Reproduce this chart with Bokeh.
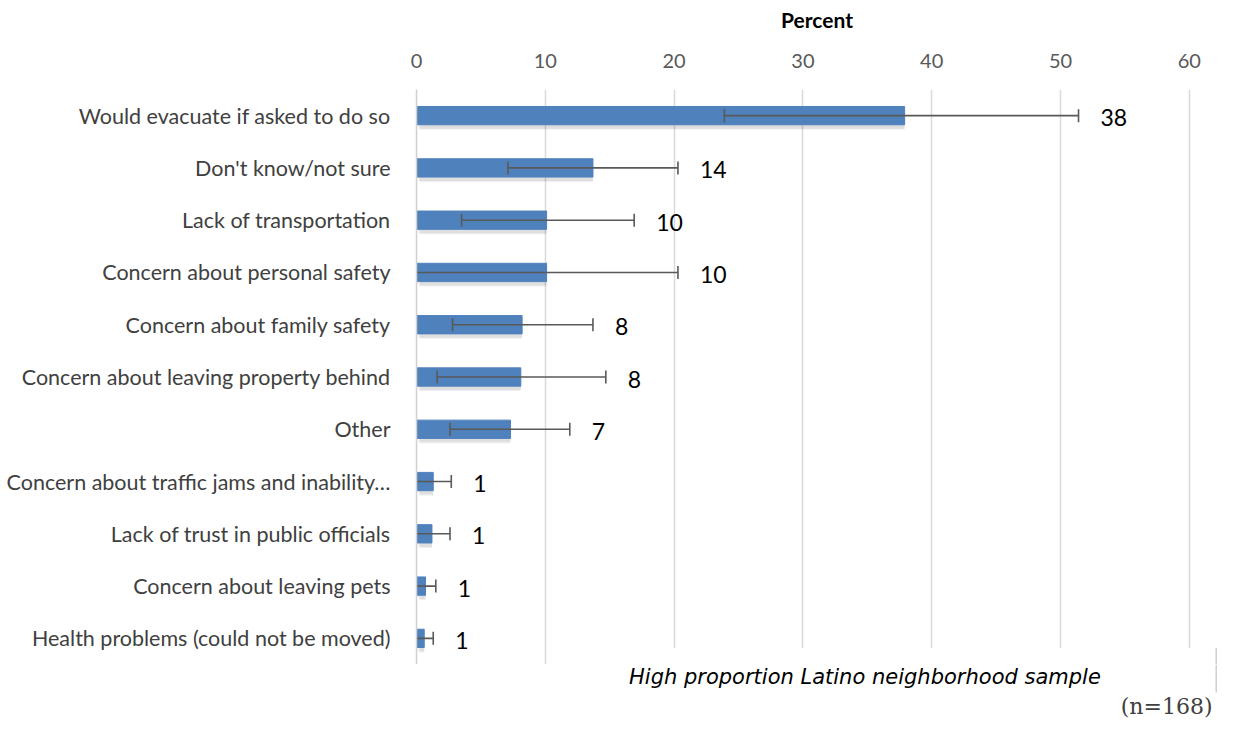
import math
from bokeh.plotting import figure
from bokeh.layouts import column
from bokeh.models import ColumnDataSource, FactorRange, Range1d, Label, BoxAnnotation, FixedTicker
from bokeh.transform import dodge
from bokeh.core.properties import value
from bokeh.embed import file_html
from bokeh.resources import INLINE

categories = [
    "Would evacuate if asked to do so",
    "Don't know/not sure",
    "Lack of transportation",
    "Concern about personal safety",
    "Concern about family safety",
    "Concern about leaving property behind",
    "Other",
    "Concern about traffic jams and inability\u2026",
    "Lack of trust in public officials",
    "Concern about leaving pets",
    "Health problems (could not be moved)",
]
percent = [37.9, 13.7, 10.1, 10.1, 8.2, 8.1, 7.3, 1.3, 1.2, 0.7, 0.6]
err_low = [23.9, 7.1, 3.5, 0.0, 2.8, 1.6, 2.6, 0.0, 0.0, 0.0, 0.0]
err_high = [51.4, 20.3, 16.9, 20.3, 13.7, 14.7, 11.9, 2.7, 2.6, 1.5, 1.3]
labels = ["38", "14", "10", "10", "8", "8", "7", "1", "1", "1", "1"]
x_ticks = [0, 10, 20, 30, 40, 50, 60]

FONT = "Lato"
BLUE = "#4f81bd"
W = 1217
LEFT = 416

src = ColumnDataSource(dict(cat=categories, pct=percent, lo=err_low, hi=err_high, lab=labels))
low_caps = ColumnDataSource(dict(
    cat=[c for c, l in zip(categories, err_low) if l > 0],
    lo=[l for l in err_low if l > 0],
))

xr = Range1d(0, 62.19)
p = figure(width=W, height=664,
           y_range=FactorRange(factors=categories[::-1]),
           x_range=xr,
           x_axis_location="above",
           output_backend="svg", toolbar_location=None,
           min_border_left=LEFT, min_border_right=0,
           min_border_top=89, min_border_bottom=0)
p.outline_line_color = None
p.background_fill_color = "white"

# axes
xa = p.xaxis[0]
xa.ticker = FixedTicker(ticks=x_ticks)
xa.axis_label = "Percent"
xa.axis_label_text_font = FONT
xa.axis_label_text_font_style = "bold"
xa.axis_label_text_font_size = "21px"
xa.axis_label_text_color = "black"
xa.axis_label_standoff = 19
xa.major_label_text_font = FONT
xa.major_label_text_font_size = "20px"
xa.major_label_text_color = "#595959"
xa.major_label_standoff = 16
xa.major_tick_line_color = None
xa.minor_tick_line_color = None
xa.axis_line_color = None

ya = p.yaxis[0]
ya.major_label_text_font = FONT
ya.major_label_text_font_size = "21.5px"
ya.major_label_text_color = "#404040"
ya.major_label_standoff = 20
ya.major_tick_line_color = None
ya.minor_tick_line_color = None
ya.axis_line_color = "#d0d0d0"
ya.axis_line_width = 1.5

p.ygrid.grid_line_color = None
p.xgrid.ticker = FixedTicker(ticks=x_ticks)
p.xgrid.grid_line_color = "#d9d9d9"
p.xgrid.grid_line_width = 1.5

# soft shadow under the bars
p.hbar(y=dodge("cat", -0.07, range=p.y_range), left=0.15, right="pct", height=0.36,
       source=src, fill_color="black", fill_alpha=0.07, line_color=None)
p.hbar(y=dodge("cat", -0.10, range=p.y_range), left=0.25, right="pct", height=0.34,
       source=src, fill_color="black", fill_alpha=0.06, line_color=None)
# bars
p.hbar(y="cat", left=0, right="pct", height=0.35, source=src,
       fill_color=BLUE, line_color=BLUE, line_width=1)

# error bars
p.segment(x0="lo", x1="hi", y0="cat", y1="cat", source=src,
          line_color="#595959", line_width=1.6)
p.scatter(x="hi", y="cat", marker="dash", angle=math.pi / 2, size=13, source=src,
          line_color="#595959", line_width=1.6)
p.scatter(x="lo", y="cat", marker="dash", angle=math.pi / 2, size=13, source=low_caps,
          line_color="#595959", line_width=1.6)

# value labels
p.text(x="hi", y="cat", text="lab", source=src, x_offset=22, y_offset=2,
       text_align="left", text_baseline="middle",
       text_font=value(FONT), text_font_size="23px", text_color="black")

# caption box (upper part, inside the plot frame)
p.add_layout(BoxAnnotation(left=15.84, right=62.19, top=0.31, bottom=-1,
                           fill_color="white", fill_alpha=1.0, line_color=None))
p.add_layout(BoxAnnotation(left=62.03, right=62.19, top=0.31, bottom=-1,
                           fill_color="#d0d0d0", fill_alpha=1.0, line_color=None))

# footer strip with caption and sample size
q = figure(width=W, height=56, x_range=xr, y_range=Range1d(0, 56),
           x_axis_type=None, y_axis_type=None,
           output_backend="svg", toolbar_location=None,
           min_border_left=LEFT, min_border_right=0,
           min_border_top=0, min_border_bottom=0)
q.outline_line_color = None
q.xgrid.grid_line_color = None
q.ygrid.grid_line_color = None
q.add_layout(BoxAnnotation(left=62.03, right=62.19, top=56, bottom=28,
                           fill_color="#d0d0d0", fill_alpha=1.0, line_color=None))
q.add_layout(Label(x=16.5, y=44, text="High proportion Latino neighborhood sample",
                   text_font="DejaVu Sans", text_font_style="italic", text_font_size="21px",
                   text_color="black", text_baseline="middle", text_align="left"))
q.add_layout(Label(x=61.8, y=14, text="(n=168)",
                   text_font="DejaVu Serif", text_font_size="22px",
                   text_color="#404040", text_baseline="middle", text_align="right"))

layout = column(p, q, spacing=0)
open("out.html", "w").write(file_html(layout, INLINE))
